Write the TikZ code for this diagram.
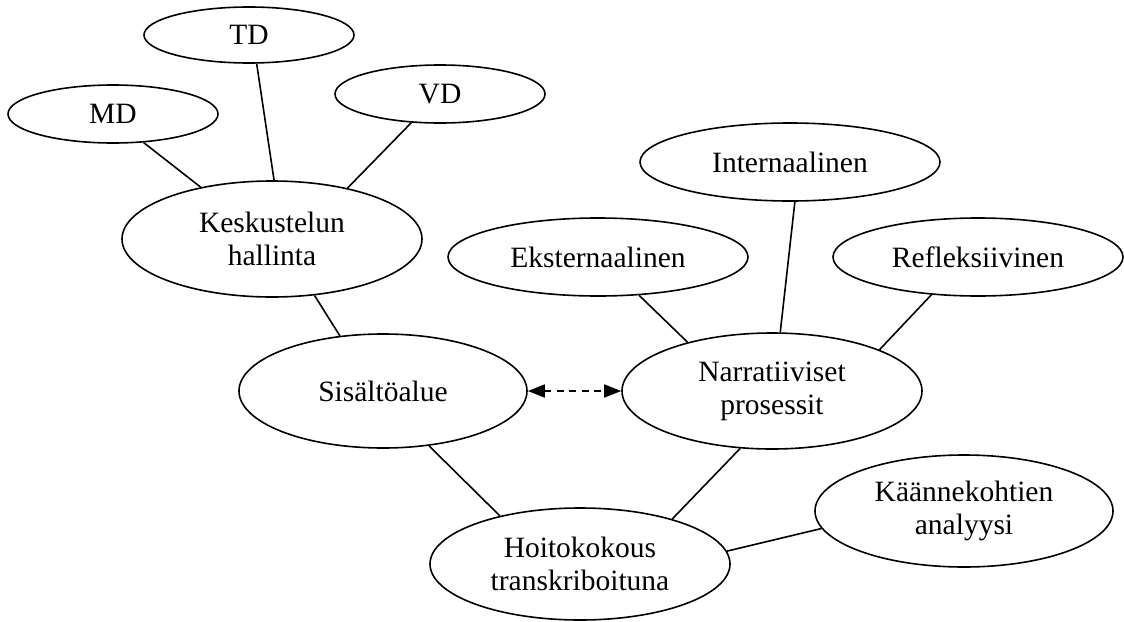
\documentclass[tikz,border=0pt]{standalone}
\usepackage{fontspec}
\setmainfont{Liberation Serif}
\usetikzlibrary{shapes.geometric,arrows.meta}
\tikzset{
  oval/.style={draw, ellipse, line width=1.6pt, inner sep=0pt, align=center,
    font=\fontsize{29.5}{33}\selectfont},
  conn/.style={line width=1.6pt},
  bothtips/.style={{Triangle[length=17pt,width=13pt]}-{Triangle[length=17pt,width=13pt]}},
}
\begin{document}
\begin{tikzpicture}[x=1pt,y=-1pt]
\useasboundingbox (0,0) rectangle (1124,621);
\node[oval, minimum width=210pt, minimum height=56pt] (TD) at (249,35) {TD};
\node[oval, minimum width=210pt, minimum height=58pt] (MD) at (113,114) {MD};
\node[oval, minimum width=210pt, minimum height=58pt] (VD) at (440,94) {VD};
\node[oval, minimum width=300pt, minimum height=116pt] (KH) at (272,239) {Keskustelun\\hallinta};
\node[oval, minimum width=300pt, minimum height=78pt] (IN) at (790,162) {Internaalinen};
\node[oval, minimum width=300pt, minimum height=78pt] (EK) at (598,257) {Eksternaalinen};
\node[oval, minimum width=290pt, minimum height=78pt] (RE) at (978,257) {Refleksiivinen};
\node[oval, minimum width=288pt, minimum height=114pt] (SA) at (383,391) {Sisältöalue};
\node[oval, minimum width=300pt, minimum height=116pt] (NP) at (772,391) {Narratiiviset\\prosessit};
\node[oval, minimum width=300pt, minimum height=112pt] (HT) at (580,564) {Hoitokokous\\transkriboituna};
\node[oval, minimum width=298pt, minimum height=112pt] (KA) at (964,511) {Käännekohtien\\analyysi};

\draw[conn] (MD.-43) -- (KH.144);
\draw[conn] (TD.-75) -- (KH.88);
\draw[conn] (VD.-135) -- (KH.34);
\draw[conn] (KH.-53) -- (SA.128);
\draw[conn] (EK.-43) -- (NP.150);
\draw[conn] (IN.-83) -- (NP.82);
\draw[conn] (RE.-141) -- (NP.21.5);
\draw[conn] (SA.-50) -- (HT.149);
\draw[conn] (NP.-119) -- (HT.26);
\draw[conn] (HT.5) -- (KA.-173.4);
\draw[conn, dash pattern=on 7pt off 5.5pt, bothtips]
  (SA.east) -- (NP.west);
\end{tikzpicture}
\end{document}
